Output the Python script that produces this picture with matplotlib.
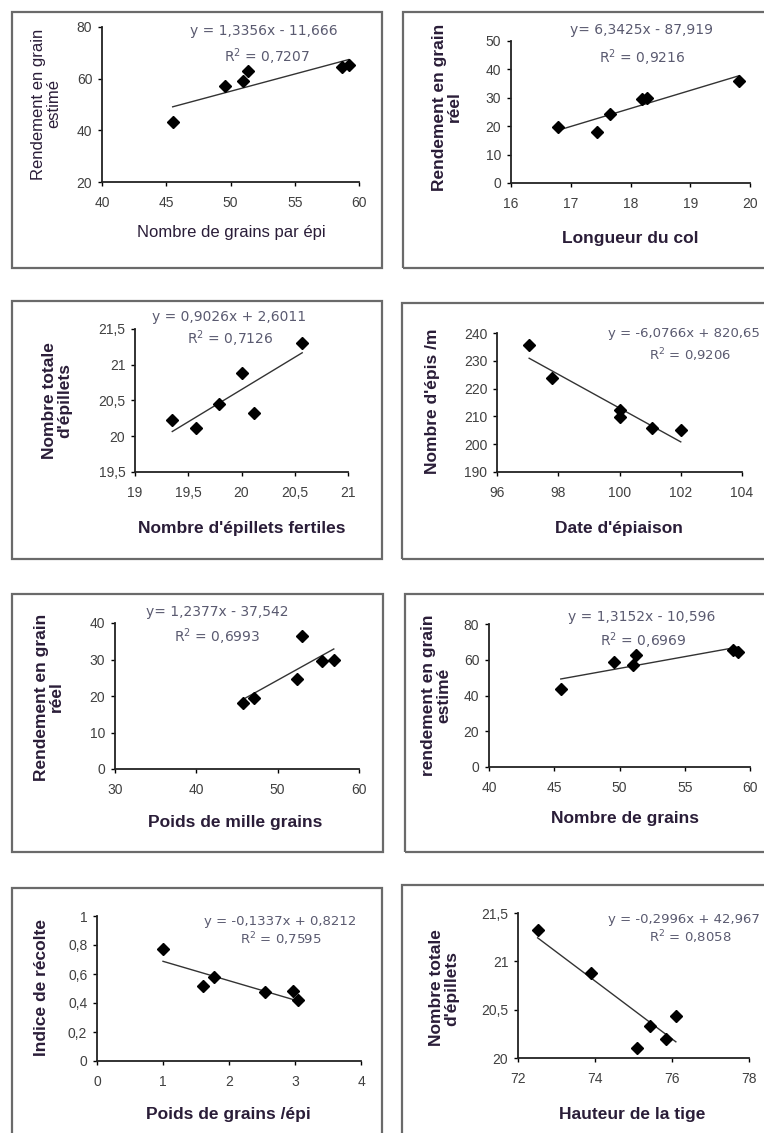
import numpy as np
import matplotlib.pyplot as plt
from matplotlib.patches import Rectangle
from matplotlib.ticker import FuncFormatter

plt.rcParams['font.family'] = ['Liberation Sans', 'DejaVu Sans']

# --- data ---
x1 = [45.5, 49.6, 51.0, 51.4, 58.7, 59.2]
y1 = [43.1, 57.3, 59.1, 63.0, 64.5, 65.2]
eq1 = (1.3356, -11.666)

x2 = [16.79, 17.44, 17.66, 18.2, 18.27, 19.82]
y2 = [19.6, 18.1, 24.3, 29.5, 29.8, 36.0]
eq2 = (6.3425, -87.919)

x3 = [19.35, 19.57, 19.79, 20.0, 20.12, 20.57]
y3 = [20.23, 20.11, 20.45, 20.89, 20.32, 21.3]
eq3 = (0.9026, 2.6011)

x4 = [97.05, 97.8, 100.0, 100.0, 101.05, 102.0]
y4 = [235.7, 223.7, 212.3, 209.9, 205.7, 205.1]
eq4 = (-6.0766, 820.65)

x5 = [45.7, 47.1, 52.4, 53.0, 55.4, 56.9]
y5 = [18.0, 19.5, 24.7, 36.5, 29.6, 29.9]
eq5 = (1.2377, -37.542)

x6 = [45.5, 49.6, 51.0, 51.3, 58.7, 59.1]
y6 = [43.5, 58.5, 56.8, 62.5, 65.5, 64.2]
eq6 = (1.3152, -10.596)

x7 = [1.0, 1.6, 1.77, 2.55, 2.97, 3.05]
y7 = [0.77, 0.517, 0.577, 0.478, 0.485, 0.42]
eq7 = (-0.1337, 0.8212)

x8 = [72.51, 73.9, 75.08, 75.43, 75.84, 76.1]
y8 = [21.32, 20.88, 20.1, 20.33, 20.2, 20.43]
eq8 = (-0.2996, 42.967)

eq_texts = ["y = 1,3356x - 11,666", "y= 6,3425x - 87,919", "y = 0,9026x + 2,6011",
            "y = -6,0766x + 820,65", "y= 1,2377x - 37,542", "y = 1,3152x - 10,596",
            "y = -0,1337x + 0,8212", "y = -0,2996x + 42,967"]
r2_texts = ["0,7207", "0,9216", "0,7126", "0,9206", "0,6993", "0,6969", "0,7595", "0,8058"]

xlabels = ["Nombre de grains par épi", "Longueur du col", "Nombre d'épillets fertiles",
           "Date d'épiaison", "Poids de mille grains", "Nombre de grains",
           "Poids de grains /épi", "Hauteur de la tige"]
ylabels = ["Rendement en grain\nestimé", "Rendement en grain\nréel", "Nombre totale\nd'épillets",
           "Nombre d'épis /m", "Rendement en grain\nréel", "rendement en grain\nestimé",
           "Indice de récolte", "Nombre totale\nd'épillets"]

xticks = [np.arange(40, 61, 5), np.arange(16, 21, 1), np.arange(19, 21.01, 0.5),
          np.arange(96, 105, 2), np.arange(30, 61, 10), np.arange(40, 61, 5),
          np.arange(0, 5, 1), np.arange(72, 79, 2)]
yticks = [np.arange(20, 81, 20), np.arange(0, 51, 10), np.arange(19.5, 21.51, 0.5),
          np.arange(190, 241, 10), np.arange(0, 41, 10), np.arange(0, 81, 20),
          np.arange(0, 1.01, 0.2), np.arange(20, 21.51, 0.5)]

xs = [x1, x2, x3, x4, x5, x6, x7, x8]
ys = [y1, y2, y3, y4, y5, y6, y7, y8]
eqs = [eq1, eq2, eq3, eq4, eq5, eq6, eq7, eq8]

# --- layout in pixels (box, axes, label / equation anchors) ---
W, H = 764, 1133
boxes = [(12, 12, 382, 268), (403, 12, 775, 268), (12, 301, 382, 559), (402, 303, 775, 559),
         (12, 594, 383, 852), (405, 594, 775, 852), (12, 888, 382, 1145), (402, 885, 775, 1145)]
axes_px = [(102, 27, 359, 182), (511, 41, 750, 183), (135, 329, 348, 472), (497, 333, 742, 472),
           (115, 623, 359, 769), (489, 624, 750, 767), (97, 916, 361, 1061), (518, 913, 749, 1058)]
xlab_pos = [(231, 232), (630, 239), (242, 529), (619, 529), (235, 823), (625, 818), (228, 1115), (632, 1115)]
ylab_pos = [(46, 104), (447, 107), (57, 401), (433, 401), (49, 697), (436, 695), (42, 988), (444, 988)]
eq_pos = [(264, 31, 'center'), (642, 30, 'center'), (229, 317, 'center'), (608, 333, 'left'),
          (217, 612, 'center'), (642, 617, 'center'), (280, 921, 'center'), (608, 920, 'left')]
r2_pos = [(267, 57), (642, 58), (230, 339), (690, 355), (217, 637), (643, 641), (281, 939), (690, 937)]
eq_size = [10, 10, 10, 9.5, 10, 10, 9.5, 9.5]
lab_bold = [False, True, True, True, True, True, True, True]


def fx(px):
    return px / W


def fy(py):
    return 1 - py / H


comma = FuncFormatter(lambda v, p: f"{v:g}".replace('.', ','))

fig = plt.figure(figsize=(W / 100, H / 100), dpi=100)

for i in range(8):
    bl, bt, br, bb = boxes[i]
    fig.patches.append(Rectangle((fx(bl), fy(bb)), fx(br - bl), (bb - bt) / H, transform=fig.transFigure,
                                 fill=False, edgecolor='#6a6a6a', lw=1.6, zorder=0))
    al, at, ar, ab = axes_px[i]
    ax = fig.add_axes([fx(al), fy(ab), fx(ar - al), (ab - at) / H])
    ax.patch.set_alpha(0)
    for s in ['top', 'right']:
        ax.spines[s].set_visible(False)
    for s in ['left', 'bottom']:
        ax.spines[s].set_linewidth(1.3)
        ax.spines[s].set_color('#222222')
    ax.set_xticks(xticks[i])
    ax.set_yticks(yticks[i])
    ax.set_xlim(xticks[i][0], xticks[i][-1])
    ax.set_ylim(yticks[i][0], yticks[i][-1])
    ax.xaxis.set_major_formatter(comma)
    ax.yaxis.set_major_formatter(comma)
    ax.tick_params(direction='out', length=3, width=1, labelsize=10, labelcolor='#404040', pad=4)
    ax.tick_params(axis='x', pad=7)

    x = np.array(xs[i])
    a, b = eqs[i]
    xl = np.array([x.min(), x.max()])
    ax.plot(xl, a * xl + b, color='#333333', lw=1)
    ax.plot(x, ys[i], 'D', color='black', markersize=6, clip_on=False)

    ex, ey, ha = eq_pos[i]
    fig.text(fx(ex), fy(ey), eq_texts[i], ha=ha, va='center', fontsize=eq_size[i], color='#5a5a70',
             family='DejaVu Sans')
    rx, ry = r2_pos[i]
    fig.text(fx(rx), fy(ry), "R$^2$ = " + r2_texts[i], ha='center', va='center', fontsize=eq_size[i],
             color='#5a5a70', family='DejaVu Sans')

    w = 'bold' if lab_bold[i] else 'normal'
    fs = 12.5 if lab_bold[i] else 12
    lx, ly = xlab_pos[i]
    fig.text(fx(lx), fy(ly), xlabels[i], ha='center', va='center', fontsize=fs, weight=w,
             color='#2a1d38')
    lx, ly = ylab_pos[i]
    fig.text(fx(lx), fy(ly), ylabels[i], ha='center', va='center', rotation=90, fontsize=fs, weight=w,
             color='#2a1d38', linespacing=1.05, multialignment='center')

fig.savefig("out.png", dpi=100)
